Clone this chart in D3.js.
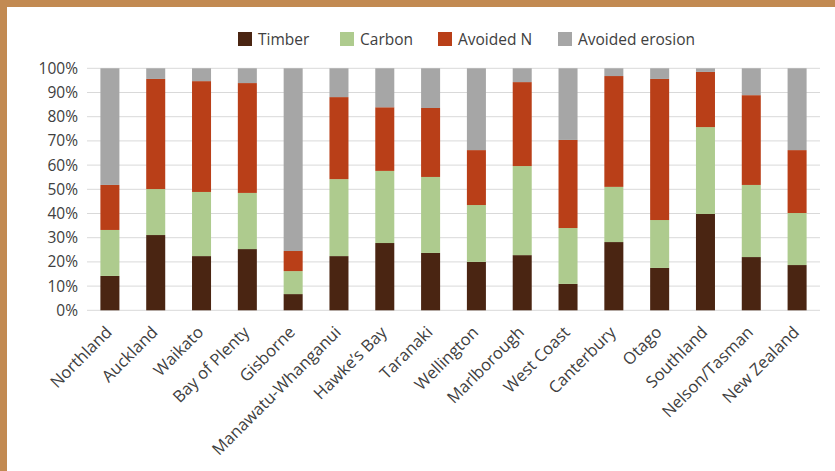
<!DOCTYPE html>
<html>
<head>
<meta charset="utf-8">
<script src="https://cdn.jsdelivr.net/npm/d3@7"></script>
<style>
  html, body { margin: 0; padding: 0; background: #fff; }
  svg { display: block; }
  text { font-family: "Open Sans", sans-serif; fill: #404040; }
</style>
</head>
<body>
<svg id="chart" width="835" height="471"></svg>
<script>
// Regions along the x axis
const regions = ["Northland", "Auckland", "Waikato", "Bay of Plenty", "Gisborne",
  "Manawatu-Whanganui", "Hawke\u2019s Bay", "Taranaki", "Wellington", "Marlborough",
  "West Coast", "Canterbury", "Otago", "Southland", "Nelson/Tasman", "New Zealand"];

// Share of total value (%) for each benefit, per region
const timber      = [14.2, 31.1, 22.4, 25.3, 6.7, 22.4, 27.8, 23.7, 20.0, 22.8, 10.9, 28.2, 17.5, 39.8, 22.0, 18.7];
const carbon      = [19.0, 19.0, 26.5, 23.2, 9.5, 31.8, 29.8, 31.4, 23.5, 36.8, 23.1, 22.8, 19.8, 35.9, 29.8, 21.5];
const avoidedN    = [18.6, 45.5, 45.8, 45.4, 8.3, 33.9, 26.3, 28.5, 22.7, 34.7, 36.4, 45.8, 58.3, 22.8, 37.1, 26.0];
const avoidedEros = [48.2,  4.4,  5.3,  6.1, 75.5, 11.9, 16.1, 16.4, 33.8, 5.7, 29.6,  3.2,  4.4,  1.5, 11.1, 33.8];

const seriesNames = ["Timber", "Carbon", "Avoided N", "Avoided erosion"];
const seriesColors = ["#4a2512", "#aecb8e", "#b93f18", "#a6a6a6"];
const yTicks = [0, 10, 20, 30, 40, 50, 60, 70, 80, 90, 100];

const rows = regions.map((r, i) => ({
  region: r,
  "Timber": timber[i],
  "Carbon": carbon[i],
  "Avoided N": avoidedN[i],
  "Avoided erosion": avoidedEros[i]
}));

const svg = d3.select("#chart");
const W = 835, H = 471;

// Frame: tan band along the top and left edges
svg.append("rect").attr("x", 0).attr("y", 0).attr("width", W).attr("height", 7).attr("fill", "#c28a52");
svg.append("rect").attr("x", 0).attr("y", 0).attr("width", 7).attr("height", H).attr("fill", "#c28a52");

const plot = { left: 87, right: 820, top: 68.3, bottom: 310.3 };

const x = d3.scaleBand().domain(regions).range([plot.left, plot.right]).paddingInner(0.585).paddingOuter(0.2925);
const y = d3.scaleLinear().domain([0, 100]).range([plot.bottom, plot.top]);

// Gridlines
svg.append("g").selectAll("line").data(yTicks).join("line")
  .attr("x1", plot.left).attr("x2", plot.right)
  .attr("y1", d => y(d)).attr("y2", d => y(d))
  .attr("stroke", "#d9d9d9").attr("stroke-width", 1);

// Y axis labels
const yAxis = d3.axisLeft(y).tickValues(yTicks).tickFormat(d => d + "%").tickSize(0).tickPadding(9);
const yg = svg.append("g").attr("transform", `translate(${plot.left},0)`).call(yAxis);
yg.select(".domain").remove();
yg.selectAll("text").style("font-size", "15.5px").style("fill", "#404040").attr("font-family", "Open Sans");

// Stacked bars
const stack = d3.stack().keys(seriesNames);
const stacked = stack(rows);
const color = d3.scaleOrdinal().domain(seriesNames).range(seriesColors);

svg.append("g").selectAll("g").data(stacked).join("g")
  .attr("fill", d => color(d.key))
  .selectAll("rect").data(d => d).join("rect")
  .attr("x", d => x(d.data.region))
  .attr("width", x.bandwidth())
  .attr("y", d => y(d[1]))
  .attr("height", d => y(d[0]) - y(d[1]));

// X axis labels, rotated
const xAxis = d3.axisBottom(x).tickSize(0).tickPadding(0);
const xg = svg.append("g").attr("transform", `translate(0,${plot.bottom})`).call(xAxis);
xg.select(".domain").remove();
xg.selectAll("text")
  .style("font-size", "16.5px").style("fill", "#404040").attr("font-family", "Open Sans")
  .attr("text-anchor", "end")
  .attr("dy", null).attr("y", 0)
  .attr("transform", "translate(3,23) rotate(-45)");

// Legend
const legendX = [238, 340, 438, 558];
const lg = svg.append("g");
seriesNames.forEach((name, i) => {
  lg.append("rect").attr("x", legendX[i]).attr("y", 32).attr("width", 14).attr("height", 14).attr("fill", seriesColors[i]);
  lg.append("text").attr("x", legendX[i] + 20).attr("y", 45).text(name)
    .style("font-size", "15.5px");
});
</script>
</body>
</html>
